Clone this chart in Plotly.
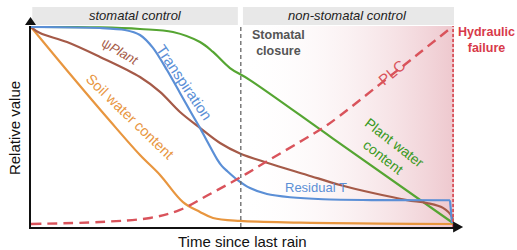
import plotly.graph_objects as go

# ---------------- data (time since rain: 0..100, relative value: 0..1) -------------
soil_t = [0, 9.22, 18.68, 25.77, 30.50, 35.93, 39.95, 43.03, 49.41, 63.59, 99.76]
soil_v = [0.995, 0.761, 0.527, 0.358, 0.259, 0.124, 0.075, 0.045, 0.030, 0.022, 0.015]

pwc_t = [0, 16.31, 25.77, 33.57, 39.95, 43.03, 47.04, 51.77, 71.39, 99.76]
pwc_v = [0.995, 0.993, 0.985, 0.970, 0.920, 0.871, 0.791, 0.731, 0.440, 0.020]

tr_t = [0, 16.31, 22.22, 25.77, 28.84, 32.15, 35.22, 38.30, 39.95, 41.61, 43.97, 45.15, 46.34,
        48.70, 51.77, 55.79, 61.23, 69.03, 80.85, 99.05, 99.53]
tr_v = [0.995, 0.990, 0.980, 0.955, 0.891, 0.781, 0.667, 0.552, 0.493, 0.428, 0.338, 0.303, 0.279,
        0.236, 0.194, 0.164, 0.148, 0.138, 0.134, 0.133, 0.020]

psi_t = [0, 2.13, 8.51, 16.31, 25.77, 30.50, 35.22, 39.95, 44.68, 49.41, 55.79, 65.25, 73.05,
         80.85, 88.89, 93.62, 97.40, 99.53, 99.76]
psi_v = [0.995, 0.965, 0.920, 0.846, 0.746, 0.672, 0.572, 0.493, 0.418, 0.366, 0.320, 0.259, 0.209,
         0.169, 0.134, 0.119, 0.095, 0.050, 0.020]

plc_t = [0, 16.31, 28.13, 35.22, 42.32, 49.41, 56.50, 64.30, 70.21, 82.51, 91.96, 99.53]
plc_v = [0.015, 0.025, 0.045, 0.085, 0.164, 0.246, 0.336, 0.433, 0.510, 0.711, 0.868, 0.995]

closure_t = 49.6
failure_t = 99.8

ORANGE = "#e8963f"
GREEN = "#55a532"
BLUE = "#5b8fd6"
BROWN = "#a55a48"
RED = "#d9535b"
FONT = "Liberation Sans, Arial, sans-serif"

fig = go.Figure()

# pink gradient region (non-stomatal control)
fig.add_trace(go.Scatter(
    x=[closure_t, 100, 100, closure_t, closure_t], y=[0, 0, 1, 1, 0],
    mode="lines", line=dict(width=0), fill="toself",
    fillgradient=dict(type="horizontal",
                      colorscale=[[0, "rgba(255,255,255,0)"], [1, "rgba(238,200,206,1)"]]),
    hoverinfo="skip", showlegend=False))

def curve(t, v, color, dash=None, width=2.2, shape="spline", smooth=1.0):
    line = dict(color=color, width=width, shape=shape, dash=dash)
    if shape == "spline":
        line["smoothing"] = smooth
    fig.add_trace(go.Scatter(x=t, y=v, mode="lines", line=line,
                             hoverinfo="skip", showlegend=False))

curve(soil_t, soil_v, ORANGE)
curve(pwc_t, pwc_v, GREEN)
curve(psi_t, psi_v, BROWN)
curve(tr_t[:-1], tr_v[:-1], BLUE, smooth=0.8)
curve(tr_t[-2:], tr_v[-2:], BLUE, shape="linear")
curve(plc_t, plc_v, RED, dash="10px,6px", width=2.4)

shapes = []
shapes.append(dict(type="line", xref="x", yref="y", x0=closure_t, x1=closure_t, y0=0, y1=1,
                   line=dict(color="#666", width=1.3, dash="4px,3px")))
shapes.append(dict(type="line", xref="x", yref="y", x0=failure_t, x1=failure_t, y0=0, y1=1,
                   line=dict(color=RED, width=2, dash="3px,2px")))
shapes.append(dict(type="rect", xref="paper", yref="paper", x0=0.003, x1=0.489, y0=1.005, y1=1.0945,
                   fillcolor="#e8e8e8", line=dict(width=0), layer="below"))
shapes.append(dict(type="rect", xref="paper", yref="paper", x0=0.501, x1=1.0, y0=1.005, y1=1.0945,
                   fillcolor="#e8e8e8", line=dict(width=0), layer="below"))
shapes.append(dict(type="path", xref="paper", yref="paper",
                   path="M -0.0142 1.005 L 0.0118 1.005 L -0.0012 1.045 Z",
                   fillcolor="#111", line=dict(width=0)))
shapes.append(dict(type="path", xref="paper", yref="paper",
                   path="M 0.998 0.027 L 0.998 -0.027 L 1.0215 0.0 Z",
                   fillcolor="#111", line=dict(width=0)))

ann = []
def text(x, y, s, color, size=13, angle=0, xref="x", yref="y"):
    ann.append(dict(x=x, y=y, xref=xref, yref=yref, text=s, showarrow=False, textangle=angle,
                    xanchor="center", yanchor="middle",
                    font=dict(family=FONT, size=size, color=color)))

text(0.246, 1.05, "<i>stomatal control</i>", "#222", 13, xref="paper", yref="paper")
text(0.749, 1.05, "<i>non-stomatal control</i>", "#222", 13, xref="paper", yref="paper")
text(0.584, 0.915, "<b>Stomatal<br>closure</b>", "#555", 12.5, xref="paper", yref="paper")
text(1.0757, 0.93, "<b>Hydraulic<br>failure</b>", "#d83a4a", 12.5, xref="paper", yref="paper")
text(-0.040, 0.4925, "Relative value", "#111", 15, angle=-90, xref="paper", yref="paper")
text(0.499, -0.0697, "Time since last rain", "#111", 15, xref="paper", yref="paper")

text(21.0, 0.871, "ψ<i>Plant</i>", BROWN, 13, angle=30)
text(36.3, 0.72, "Transpiration", BLUE, 15, angle=56)
text(23.2, 0.55, "Soil water content", ORANGE, 14.5, angle=44)
text(85.2, 0.77, "PLC", RED, 15, angle=-40)
text(84.7, 0.385, "Plant water<br>content", "#3a9a1e", 14, angle=38)
text(67.4, 0.196, "Residual T", BLUE, 13)

fig.update_layout(
    width=517, height=250,
    margin=dict(l=31, r=63, t=26, b=23, pad=0),
    paper_bgcolor="white", plot_bgcolor="white",
    xaxis=dict(range=[0, 100], showgrid=False, zeroline=False, showticklabels=False, ticks="",
               showline=True, linecolor="#111", linewidth=2),
    yaxis=dict(range=[0, 1], showgrid=False, zeroline=False, showticklabels=False, ticks="",
               showline=True, linecolor="#111", linewidth=2),
    shapes=shapes, annotations=ann, showlegend=False,
    font=dict(family=FONT),
)

fig.write_html("out.html", config={"displayModeBar": False},
               post_script="document.body.style.margin='0';")
